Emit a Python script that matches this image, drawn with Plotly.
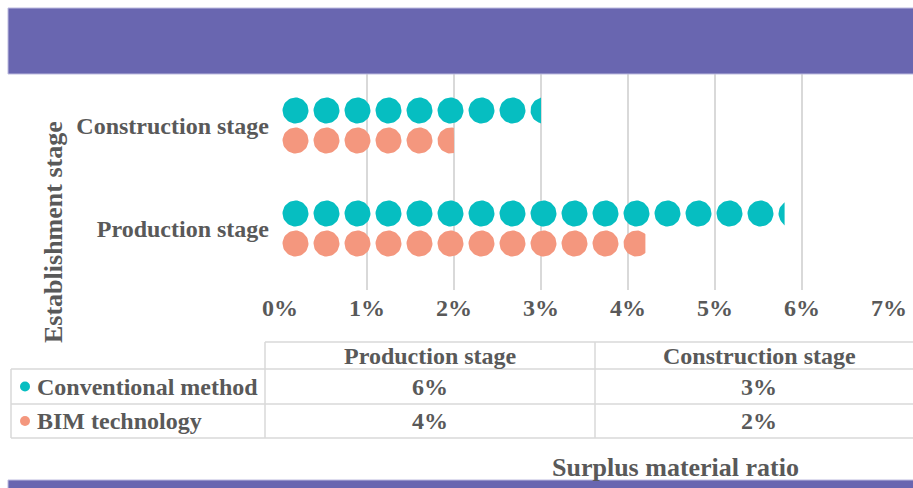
import math
import plotly.graph_objects as go

# ---------------- data ----------------
stages = ["Production stage", "Construction stage"]
series_names = ["Conventional method", "BIM technology"]
conventional = [0.058, 0.030]
bim = [0.042, 0.020]
x_ticks = [0.0, 0.01, 0.02, 0.03, 0.04, 0.05, 0.06, 0.07]
x_title = "Surplus material ratio"
y_title = "Establishment stage"

# ---------------- style / layout ----------------
W, H = 913, 488
PL, PR, PT, PB = 280, 889, 74, 290       # plot area in pixels
TEAL = "#06BEC1"
SALMON = "#F4977E"
PURPLE = "#6966B0"
GRID = "#D9D9D9"
TXT = "#595959"
FONT = "Liberation Serif, Times New Roman, serif"

x_range = [0, 0.07]
px_per_x = (PR - PL) / (x_range[1] - x_range[0])
px_per_y = 103.0
cat_px = {0: 228.5, 1: 125.5}
y_bottom = 0 - (PB - cat_px[0]) / px_per_y
y_top = 1 + (cat_px[1] - PT) / px_per_y
y_range = [y_bottom, y_top]

DOT_R = 13.0     # px
DOT_PITCH = 31.0  # px
ROW_OFF = 15.0    # px

def dots_polygons(values, offset_px):
    xs, ys = [], []
    rx = DOT_R / px_per_x
    ry = DOT_R / px_per_y
    pitch = DOT_PITCH / px_per_x
    for ci, v in enumerate(values):
        cy = ci + offset_px / px_per_y
        n = math.ceil(v / pitch - 1e-9)
        for k in range(n):
            cx = (k + 0.5) * pitch
            for j in range(49):
                t = 2 * math.pi * j / 48
                xs.append(min(cx + rx * math.cos(t), v))
                ys.append(cy + ry * math.sin(t))
            xs.append(None)
            ys.append(None)
    return xs, ys

fig = go.Figure()
for vals, col, off, name in [(conventional, TEAL, ROW_OFF, series_names[0]),
                             (bim, SALMON, -ROW_OFF, series_names[1])]:
    xs, ys = dots_polygons(vals, off)
    fig.add_trace(go.Scatter(x=xs, y=ys, mode="lines", fill="toself",
                             fillcolor=col, line=dict(width=0, color=col),
                             name=name, showlegend=False, hoverinfo="skip"))

pw = PR - PL
ph = PB - PT
def xp(px):
    return (px - PL) / pw
def yp(py):
    return (PB - py) / ph

shapes = []
# purple bands
shapes.append(dict(type="rect", xref="paper", yref="paper", x0=xp(8), x1=xp(920),
                   y0=yp(74), y1=yp(8), fillcolor=PURPLE,
                   line=dict(color="#BDBBDF", width=1), layer="above"))
shapes.append(dict(type="rect", xref="paper", yref="paper", x0=xp(8), x1=xp(920),
                   y0=yp(492), y1=yp(480), fillcolor=PURPLE,
                   line=dict(color="#BDBBDF", width=1), layer="above"))

# table geometry
tb_top, tb_r1, tb_r2, tb_bot = 342, 369, 404, 438
c_left, c0, c1, c_right = 11, 265, 595, 923
def hline(x0, x1, y):
    shapes.append(dict(type="line", xref="paper", yref="paper", x0=xp(x0), x1=xp(x1),
                       y0=yp(y), y1=yp(y), line=dict(color=GRID, width=1.5)))
def vline(x, y0, y1):
    shapes.append(dict(type="line", xref="paper", yref="paper", x0=xp(x), x1=xp(x),
                       y0=yp(y0), y1=yp(y1), line=dict(color=GRID, width=1.5)))
hline(c0, c_right, tb_top)
hline(c_left, c_right, tb_r1)
hline(c_left, c_right, tb_r2)
hline(c_left, c_right, tb_bot)
vline(c_left, tb_r1, tb_bot)
vline(c0, tb_top, tb_bot)
vline(c1, tb_top, tb_bot)

annotations = []
def txt(text, x, y, anchor="center", size=24):
    annotations.append(dict(text=text, xref="paper", yref="paper", x=xp(x), y=yp(y),
                            xanchor=anchor, yanchor="middle", showarrow=False,
                            font=dict(family=FONT, size=size, color=TXT, weight="bold")))

# header: columns in category order
col_centers = [(c0 + c1) / 2, (c1 + c_right) / 2]
hdr_y = (tb_top + tb_r1) / 2
for i, s in enumerate(stages):
    txt(s, col_centers[i], hdr_y)
row_ys = [(tb_r1 + tb_r2) / 2, (tb_r2 + tb_bot) / 2]
for r, (vals, col, name) in enumerate([(conventional, TEAL, series_names[0]),
                                        (bim, SALMON, series_names[1])]):
    txt(name, 35, row_ys[r], anchor="left")
    shapes.append(dict(type="circle", xref="paper", yref="paper",
                       xsizemode="pixel", ysizemode="pixel",
                       xanchor=xp(25), yanchor=yp(row_ys[r]),
                       x0=-5, x1=5, y0=-5, y1=5, fillcolor=col, line=dict(width=0)))
    for i, v in enumerate(vals):
        txt(f"{v:.0%}", col_centers[i], row_ys[r])

# axis titles
txt(x_title, 675, 467, size=26)
annotations.append(dict(text=y_title, xref="paper", yref="paper", x=xp(54), y=yp(232),
                        xanchor="center", yanchor="middle", textangle=-90, showarrow=False,
                        font=dict(family=FONT, size=26, color=TXT, weight="bold")))

fig.update_layout(
    width=W, height=H, autosize=False,
    margin=dict(l=PL, r=W - PR, t=PT, b=H - PB, pad=0, autoexpand=False),
    paper_bgcolor="white", plot_bgcolor="white",
    shapes=shapes, annotations=annotations,
    xaxis=dict(range=x_range, tickvals=x_ticks, tickformat=".0%", automargin=False,
               showgrid=True, gridcolor=GRID, gridwidth=1.5, zeroline=False,
               showline=False, ticks="", ticklabelstandoff=1,
               tickfont=dict(family=FONT, size=24, color=TXT, weight="bold")),
    yaxis=dict(range=y_range, tickvals=[0, 1], ticktext=stages, automargin=False,
               showgrid=False, zeroline=False, showline=False, ticks="",
               ticklabelstandoff=10,
               tickfont=dict(family=FONT, size=24, color=TXT, weight="bold")),
    showlegend=False,
)

fig.write_html("out.html")
